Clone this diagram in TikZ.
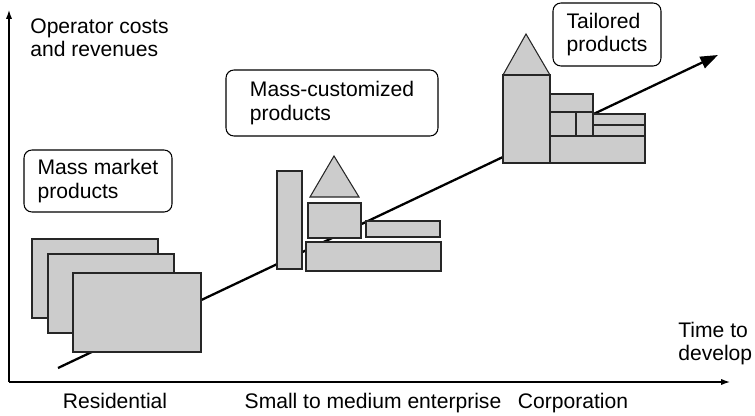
\documentclass[tikz,border=0pt]{standalone}
\usepackage{fontspec}
\setmainfont{Liberation Sans}
\usetikzlibrary{arrows.meta}

\begin{document}
\begin{tikzpicture}[x=0.02cm,y=-0.02cm,font=\fontsize{12}{13.2}\selectfont,
  block/.style={draw=black!85,fill=black!20,line width=0.6pt},
  label box/.style={draw,rounded corners=4.5pt,line width=0.6pt,align=left,inner sep=0pt},
  plain/.style={align=left,inner sep=0pt}]
\useasboundingbox (0,0) rectangle (755,416);
\coordinate (O) at (9,382);
\coordinate (ytop) at (9,10);
\coordinate (xend) at (730,382);
\coordinate (start) at (58,368);
\coordinate (tip) at (718,55);
\draw[line width=0.7pt,-{Latex[length=5pt,width=3.5pt]}] (O) -- (ytop);
\draw[line width=0.7pt,-{Latex[length=5pt,width=3.5pt]}] (O) -- (xend);
\draw[line width=1.3pt,-{Triangle[length=10pt,width=7pt]}] (start) -- (tip);
\draw[block] (32,239) rectangle (158,318);
\draw[block] (48,254) rectangle (174,333);
\draw[block] (73,273) rectangle (201,352);
\draw[block] (277,171) rectangle (302,269);
\draw[block] (334,156) -- (359,197) -- (310,197) -- cycle;
\draw[block] (308,203) rectangle (361,238);
\draw[block] (366,221) rectangle (440,237);
\draw[block] (306,242) rectangle (441,271);
\draw[block] (526,34) -- (550,75) -- (503,75) -- cycle;
\draw[block] (503,75) rectangle (550,163);
\draw[block] (550,94) rectangle (593,112);
\draw[block] (550,112) rectangle (576,136);
\draw[block] (576,112) rectangle (593,136);
\draw[block] (593,114) rectangle (645,125);
\draw[block] (593,125) rectangle (645,136);
\draw[block] (550,136) rectangle (645,163);
\node[label box,minimum width=2.96cm,minimum height=1.24cm] (mass) at (98,181) {Mass market\\products};
\node[label box,minimum width=4.24cm,minimum height=1.32cm] (custom) at (332,103) {Mass-customized\\products};
\node[label box,minimum width=2.16cm,minimum height=1.26cm] (tailored) at (607,34.5) {Tailored\\products};
\node[plain,anchor=north west] (costs) at (30,18) {Operator costs\\and revenues};
\node[plain,anchor=north west] (time) at (678,322) {Time to\\develop};
\node[anchor=base,inner sep=0pt] (res) at (115,408) {Residential};
\node[anchor=base,inner sep=0pt] (sme) at (373,408) {Small to medium enterprise};
\node[anchor=base,inner sep=0pt] (corp) at (573,408) {Corporation};
\end{tikzpicture}
\end{document}
